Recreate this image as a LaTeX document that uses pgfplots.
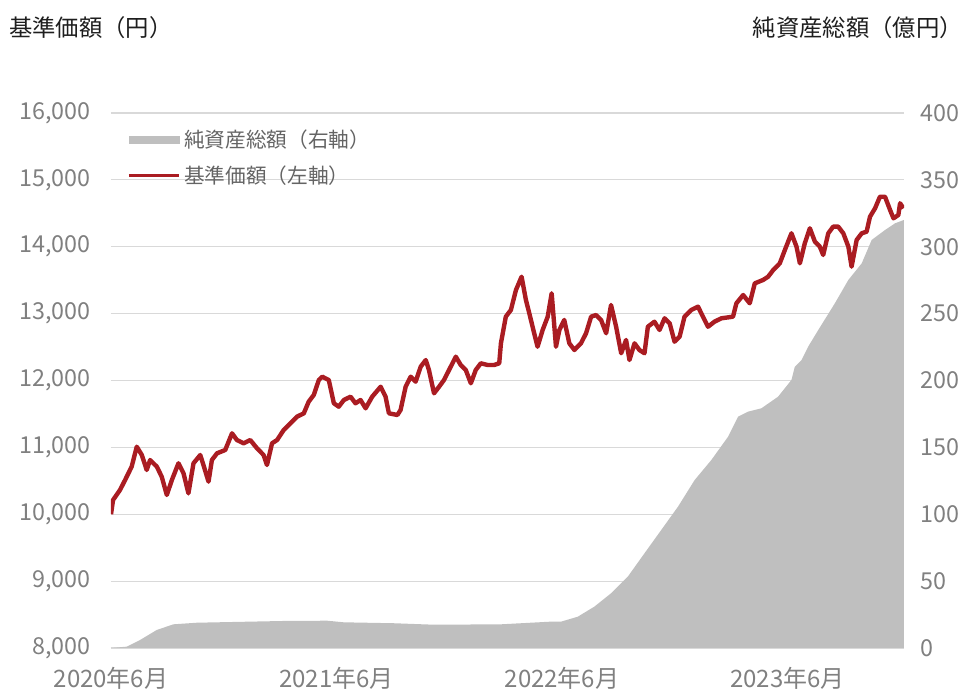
\documentclass[border=0pt]{standalone}
\usepackage{pgfplots}
\pgfplotsset{compat=1.18}
\usepackage{fontspec}
\setmainfont{Noto Sans CJK JP}

\definecolor{navred}{RGB}{170,28,34}
\definecolor{areagray}{RGB}{191,191,191}
\definecolor{gridgray}{RGB}{217,217,217}
\definecolor{ticktext}{RGB}{128,128,128}
\definecolor{titletext}{RGB}{30,30,30}
\definecolor{legtext}{RGB}{100,100,100}

\begin{document}
\begin{tikzpicture}
  % right axis: net assets (area) + grid + date labels
  \begin{axis}[
    scale only axis,
    width=594.75pt, height=401.25pt,
    xmin=0, xmax=42.2,
    ymin=0, ymax=400,
    ytick={0,50,...,400},
    yticklabel pos=right,
    xtick={0,12,24,36},
    xticklabels={2020年6月,2021年6月,2022年6月,2023年6月},
    axis line style={draw=none},
    major tick length=0pt,
    ymajorgrids=true,
    grid style={gridgray, line width=0.9pt},
    tick label style={font=\fontsize{17.5}{17.5}\selectfont, text=ticktext, inner sep=0pt},
    yticklabel style={anchor=west, xshift=12pt},
    xticklabel style={anchor=center, yshift=-22.9pt, font=\fontsize{18}{18}\selectfont},
    /pgf/number format/assume math mode=true,
  ]
    \addplot[fill=areagray, draw=none] coordinates {
      (0,0) (0.84,1.0) (1.55,6.0) (2.44,13.5) (3.32,17.7) (4.57,18.9) (7.41,19.7)
      (9.19,20.2) (11.50,20.4) (12.39,19.2) (15.06,18.5) (17.19,17.4) (20.75,17.7)
      (23.41,19.7) (23.95,19.7) (24.84,23.4) (25.72,30.9) (26.61,40.9) (27.50,53.3)
      (28.39,70.8) (29.28,88.2) (30.17,105.6) (31.06,125.6) (31.95,140.6) (32.84,158.0)
      (33.37,173.0) (33.90,176.7) (34.61,179.2) (35.50,187.9) (36.21,200.4) (36.39,210.3)
      (36.75,215.3) (37.10,225.3) (37.64,237.8) (38.52,257.7) (39.24,275.2) (39.95,287.6)
      (40.48,305.1) (41.19,312.5) (41.72,317.5) (42.19,320.0)
    } \closedcycle;
  \end{axis}

  % left axis: NAV line
  \begin{axis}[
    scale only axis,
    width=594.75pt, height=401.25pt,
    xmin=0, xmax=42.2,
    ymin=8000, ymax=16000,
    ytick={8000,9000,...,16000},
    scaled y ticks=false,
    xtick=\empty,
    axis line style={draw=none},
    major tick length=0pt,
    tick label style={font=\fontsize{17.5}{17.5}\selectfont, text=ticktext, inner sep=0pt},
    yticklabel style={anchor=east, xshift=-15pt},
    /pgf/number format/fixed,
    /pgf/number format/1000 sep={,},
    /pgf/number format/assume math mode=true,
    legend cell align=left,
    legend style={at={(rel axis cs:0.02,0.975)}, anchor=north west,
      draw=none, fill=none, inner sep=0pt, row sep=7pt,
      font=\fontsize{15.5}{15.5}\selectfont, text=legtext,
      nodes={inner sep=2.5pt}},
  ]
    \addlegendimage{legend image code/.code={
      \fill[areagray] (0pt,-2.7pt) rectangle (37.5pt,2.7pt);}}
    \addlegendentry{純資産総額（右軸）}
    \addplot[navred, line width=3.3pt, line join=round,
      legend image code/.code={
        \draw[navred, line width=2.8pt] (0pt,0pt) -- (37.5pt,0pt);}]
    coordinates {
      (0.00,10000) (0.11,10213) (0.48,10363) (0.75,10512) (1.10,10711) (1.37,11010)
      (1.64,10886) (1.90,10662) (2.08,10811) (2.44,10711) (2.70,10561) (2.97,10288)
      (3.24,10512) (3.59,10762) (3.86,10612) (4.12,10313) (4.39,10762) (4.75,10886)
      (4.92,10736) (5.19,10487) (5.37,10811) (5.64,10911) (6.08,10961) (6.44,11210)
      (6.70,11110) (7.06,11061) (7.41,11110) (7.77,10986) (8.12,10886) (8.30,10736)
      (8.57,11061) (8.84,11110) (9.19,11260) (9.55,11360) (9.90,11459) (10.26,11509)
      (10.52,11683) (10.79,11783) (11.06,12007) (11.24,12057) (11.59,12007) (11.86,11659)
      (12.12,11608) (12.39,11708) (12.75,11758) (13.01,11659) (13.28,11708) (13.55,11584)
      (13.90,11758) (14.35,11907) (14.61,11758) (14.79,11509) (15.24,11484) (15.41,11559)
      (15.68,11907) (15.95,12057) (16.21,11982) (16.48,12206) (16.75,12306) (16.92,12157)
      (17.19,11808) (17.46,11907) (17.72,12007) (17.99,12157) (18.35,12356) (18.61,12232)
      (18.88,12157) (19.15,11958) (19.41,12157) (19.68,12257) (20.04,12232) (20.39,12232)
      (20.66,12257) (20.75,12556) (21.01,12954) (21.28,13054) (21.55,13353) (21.85,13552)
      (22.08,13204) (22.26,13005) (22.52,12706) (22.70,12505) (22.97,12755) (23.24,12954)
      (23.45,13304) (23.68,12505) (23.86,12755) (24.12,12905) (24.39,12556) (24.66,12456)
      (25.01,12556) (25.28,12706) (25.55,12954) (25.81,12979) (26.08,12905) (26.35,12706)
      (26.61,13129) (26.88,12804) (27.15,12407) (27.41,12606) (27.59,12306) (27.86,12556)
      (28.12,12456) (28.39,12407) (28.57,12804) (28.92,12879) (29.19,12755) (29.46,12930)
      (29.73,12855) (29.99,12580) (30.26,12655) (30.52,12954) (30.88,13054) (31.24,13104)
      (31.50,12954) (31.77,12804) (32.12,12880) (32.48,12930) (33.10,12954) (33.28,13154)
      (33.64,13278) (33.99,13154) (34.26,13453) (34.70,13503) (34.97,13552) (35.24,13652)
      (35.59,13752) (35.86,13951) (36.21,14201) (36.48,14001) (36.66,13752) (36.92,14051)
      (37.19,14276) (37.46,14075) (37.72,14001) (37.90,13877) (38.17,14201) (38.43,14300)
      (38.70,14300) (38.97,14201) (39.24,14001) (39.41,13702) (39.68,14101) (39.95,14201)
      (40.21,14225) (40.39,14449) (40.66,14575) (40.92,14748) (41.19,14748) (41.46,14549)
      (41.64,14425) (41.90,14475) (41.99,14650) (42.17,14575)
    };
    \addlegendentry{基準価額（左軸）}
  \end{axis}

  % axis titles
  \node[anchor=west, text=titletext, font=\fontsize{17.5}{17.5}\selectfont, inner sep=0pt]
    at (-76.5pt,465pt) {基準価額（円）};
  \node[anchor=east, text=titletext, font=\fontsize{17.5}{17.5}\selectfont, inner sep=0pt]
    at (639pt,465pt) {純資産総額（億円）};

  \pgfresetboundingbox
  \path[use as bounding box] (-83.25pt,-32.25pt) rectangle (640.5pt,486pt);
\end{tikzpicture}
\end{document}
